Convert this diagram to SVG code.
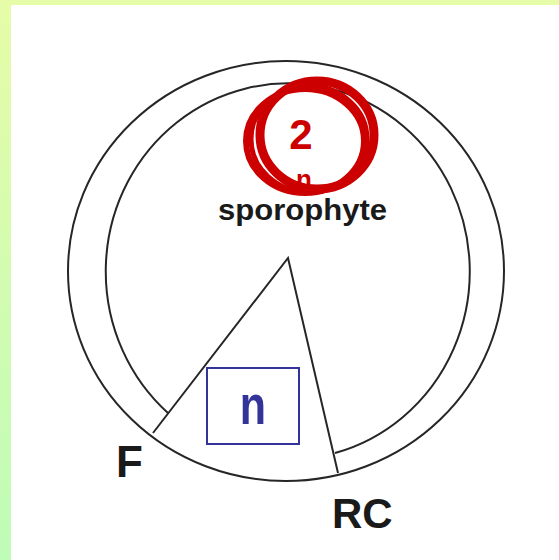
<svg xmlns="http://www.w3.org/2000/svg" width="559" height="560" viewBox="0 0 559 560">
  <defs>
    <linearGradient id="bg" x1="0" y1="0" x2="0" y2="1">
      <stop offset="0" stop-color="#e6fca8"/>
      <stop offset="1" stop-color="#bffcb8"/>
    </linearGradient>
  </defs>
  <style>
    .line { fill: none; stroke: #262626; stroke-width: 2; }
    .red { fill: none; stroke: #cc0000; }
    .lbl { font-family: "Liberation Sans", Arial, sans-serif; font-weight: bold; fill: #1a1a1a; }
    .redtxt { font-family: "Liberation Sans", Arial, sans-serif; font-weight: bold; fill: #cc0000; text-anchor: middle; }
  </style>
  <rect x="0" y="0" width="559" height="560" fill="url(#bg)"/>
  <rect x="11" y="5" width="548" height="555" fill="#ffffff"/>

  <g id="cycle">
    <ellipse class="line" cx="286" cy="271" rx="218" ry="210"/>
    <path class="line" d="M168,413 A182,188 0 1 1 335,453"/>
  </g>

  <g id="wedge">
    <path class="line" d="M153,433 L288,258 L338,473"/>
  </g>

  <g id="diploid">
    <text class="redtxt" x="301" y="149" font-size="42">2</text>
    <text class="redtxt" x="304" y="188" font-size="26">n</text>
    <ellipse class="red" cx="305" cy="141" rx="59" ry="52" stroke-width="6"/>
    <ellipse class="red" cx="309" cy="139" rx="58" ry="53" stroke-width="5"/>
    <ellipse class="red" cx="317" cy="135" rx="57" ry="54" stroke-width="9"/>
  </g>

  <g id="sporophyte">
    <text class="lbl" x="218" y="220" font-size="29" textLength="169" lengthAdjust="spacingAndGlyphs">sporophyte</text>
  </g>

  <g id="haploid">
    <rect x="207" y="368" width="92" height="76" fill="none" stroke="#333399" stroke-width="2"/>
    <text transform="translate(253,424) scale(1,1.3)" x="0" y="0" font-family="Liberation Sans, Arial, sans-serif" font-weight="bold" font-size="43" fill="#333399" text-anchor="middle">n</text>
  </g>

  <g id="F">
    <text class="lbl" x="116" y="477" font-size="44">F</text>
  </g>

  <g id="RC">
    <text class="lbl" x="332" y="528" font-size="42">RC</text>
  </g>
</svg>
